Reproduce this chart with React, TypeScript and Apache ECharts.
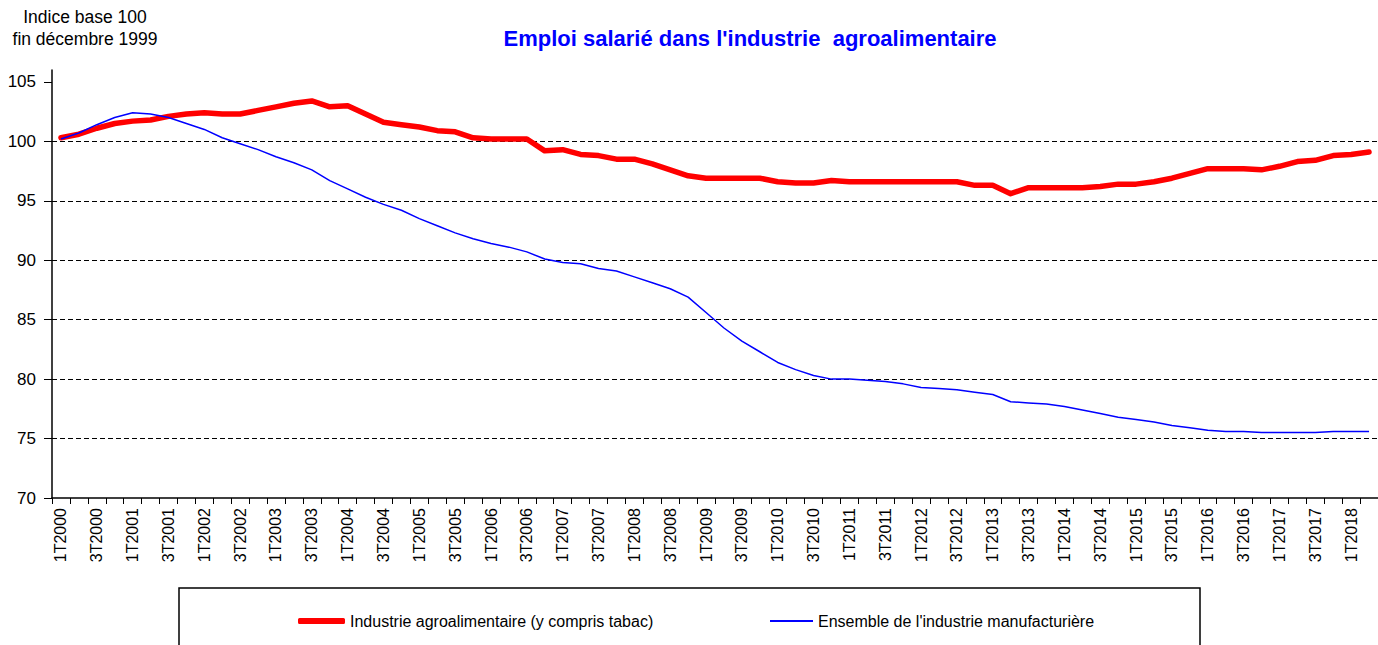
import React, { useEffect, useRef } from "react";
import * as echarts from "echarts";

const quarters: string[] = [
  "1T2000", "2T2000", "3T2000", "4T2000",
  "1T2001", "2T2001", "3T2001", "4T2001",
  "1T2002", "2T2002", "3T2002", "4T2002",
  "1T2003", "2T2003", "3T2003", "4T2003",
  "1T2004", "2T2004", "3T2004", "4T2004",
  "1T2005", "2T2005", "3T2005", "4T2005",
  "1T2006", "2T2006", "3T2006", "4T2006",
  "1T2007", "2T2007", "3T2007", "4T2007",
  "1T2008", "2T2008", "3T2008", "4T2008",
  "1T2009", "2T2009", "3T2009", "4T2009",
  "1T2010", "2T2010", "3T2010", "4T2010",
  "1T2011", "2T2011", "3T2011", "4T2011",
  "1T2012", "2T2012", "3T2012", "4T2012",
  "1T2013", "2T2013", "3T2013", "4T2013",
  "1T2014", "2T2014", "3T2014", "4T2014",
  "1T2015", "2T2015", "3T2015", "4T2015",
  "1T2016", "2T2016", "3T2016", "4T2016",
  "1T2017", "2T2017", "3T2017", "4T2017",
  "1T2018", "2T2018",
];

const agroName = "Industrie agroalimentaire (y compris tabac)";
const manufName = "Ensemble de l'industrie manufacturière";

const agroValues: number[] = [
  100.3, 100.6, 101.1, 101.5, 101.7, 101.8, 102.1, 102.3,
  102.4, 102.3, 102.3, 102.6, 102.9, 103.2, 103.4, 102.9,
  103.0, 102.3, 101.6, 101.4, 101.2, 100.9, 100.8, 100.3,
  100.2, 100.2, 100.2, 99.2, 99.3, 98.9, 98.8, 98.5,
  98.5, 98.1, 97.6, 97.1, 96.9, 96.9, 96.9, 96.9,
  96.6, 96.5, 96.5, 96.7, 96.6, 96.6, 96.6, 96.6,
  96.6, 96.6, 96.6, 96.3, 96.3, 95.6, 96.1, 96.1,
  96.1, 96.1, 96.2, 96.4, 96.4, 96.6, 96.9, 97.3,
  97.7, 97.7, 97.7, 97.6, 97.9, 98.3, 98.4, 98.8,
  98.9, 99.1,
];

const manufValues: number[] = [
  100.2, 100.7, 101.4, 102.0, 102.4, 102.3, 102.0, 101.5,
  101.0, 100.3, 99.8, 99.3, 98.7, 98.2, 97.6, 96.7,
  96.0, 95.3, 94.7, 94.2, 93.5, 92.9, 92.3, 91.8,
  91.4, 91.1, 90.7, 90.1, 89.8, 89.7, 89.3, 89.1,
  88.6, 88.1, 87.6, 86.9, 85.6, 84.3, 83.2, 82.3,
  81.4, 80.8, 80.3, 80.0, 80.0, 79.9, 79.8, 79.6,
  79.3, 79.2, 79.1, 78.9, 78.7, 78.1, 78.0, 77.9,
  77.7, 77.4, 77.1, 76.8, 76.6, 76.4, 76.1, 75.9,
  75.7, 75.6, 75.6, 75.5, 75.5, 75.5, 75.5, 75.6,
  75.6, 75.6,
];

const yTicks: number[] = [70, 75, 80, 85, 90, 95, 100, 105];

const titleText = "Emploi salarié dans l'industrie  agroalimentaire";
const unitText = "Indice base 100\nfin décembre 1999";

const FONT = "'Liberation Sans', Arial, Helvetica, sans-serif";

export default function App() {
  const ref = useRef<HTMLDivElement>(null);

  useEffect(() => {
    if (!ref.current) return;
    const chart = echarts.init(ref.current, undefined, { renderer: "svg" });
    chart.setOption({
      animation: false,
      backgroundColor: "#ffffff",
      textStyle: { fontFamily: FONT },
      grid: { left: 52, top: 70, width: 1328, height: 428, containLabel: false },
      graphic: [
        {
          type: "text",
          x: 750,
          y: 38,
          style: {
            text: titleText,
            fill: "#0000ff",
            font: `bold 22px ${FONT}`,
            textAlign: "center",
            textVerticalAlign: "middle",
          },
        },
        {
          type: "text",
          x: 85,
          y: 6,
          style: {
            text: unitText,
            fill: "#000000",
            font: `17.5px ${FONT}`,
            textAlign: "center",
            lineHeight: 22,
          },
        },
        {
          type: "rect",
          shape: { x: 179, y: 588, width: 1021, height: 100 },
          style: { fill: "none", stroke: "#000000", lineWidth: 1.5 },
          z: 1,
        },
      ],
      legend: [
        {
          data: [agroName],
          left: 293,
          top: 608,
          icon: "roundRect",
          itemWidth: 47,
          itemHeight: 6,
          itemStyle: { borderWidth: 0 },
          textStyle: { fontSize: 16, color: "#000000", fontFamily: FONT },
        },
        {
          data: [manufName],
          left: 765,
          top: 608,
          icon: "rect",
          itemWidth: 43,
          itemHeight: 2,
          itemStyle: { borderWidth: 0 },
          textStyle: { fontSize: 16, color: "#000000", fontFamily: FONT },
        },
      ],
      xAxis: {
        type: "category",
        data: quarters,
        boundaryGap: true,
        axisLine: { lineStyle: { color: "#000000", width: 1.5 } },
        axisTick: { show: true, interval: 0, length: 6, lineStyle: { color: "#000000", width: 1 } },
        axisLabel: {
          interval: 1,
          rotate: 90,
          fontSize: 16,
          margin: 10,
          color: "#000000",
          fontFamily: FONT,
        },
        splitLine: { show: false },
      },
      yAxis: {
        type: "value",
        min: 70,
        max: 106,
        interval: 5,
        axisLine: { show: true, lineStyle: { color: "#000000", width: 1.5 } },
        axisTick: {
          show: true,
          length: 8,
          customValues: yTicks,
          lineStyle: { color: "#000000", width: 1 },
        },
        axisLabel: {
          fontSize: 17,
          margin: 16,
          color: "#000000",
          fontFamily: FONT,
          customValues: yTicks,
        },
        splitLine: {
          show: true,
          showMinLine: false,
          showMaxLine: false,
          lineStyle: { color: "#000000", width: 1.2, type: [5, 3] },
        },
      },
      series: [
        {
          name: agroName,
          type: "line",
          data: agroValues,
          symbol: "none",
          color: "#ff0000",
          lineStyle: { color: "#ff0000", width: 5.5, cap: "round", join: "round" },
        },
        {
          name: manufName,
          type: "line",
          data: manufValues,
          symbol: "none",
          color: "#0000ff",
          lineStyle: { color: "#0000ff", width: 1.5 },
        },
      ],
    });
    return () => chart.dispose();
  }, []);

  return (
    <div
      ref={ref}
      style={{ position: "absolute", left: 0, top: 0, width: 1378, height: 645, background: "#fff" }}
    />
  );
}
